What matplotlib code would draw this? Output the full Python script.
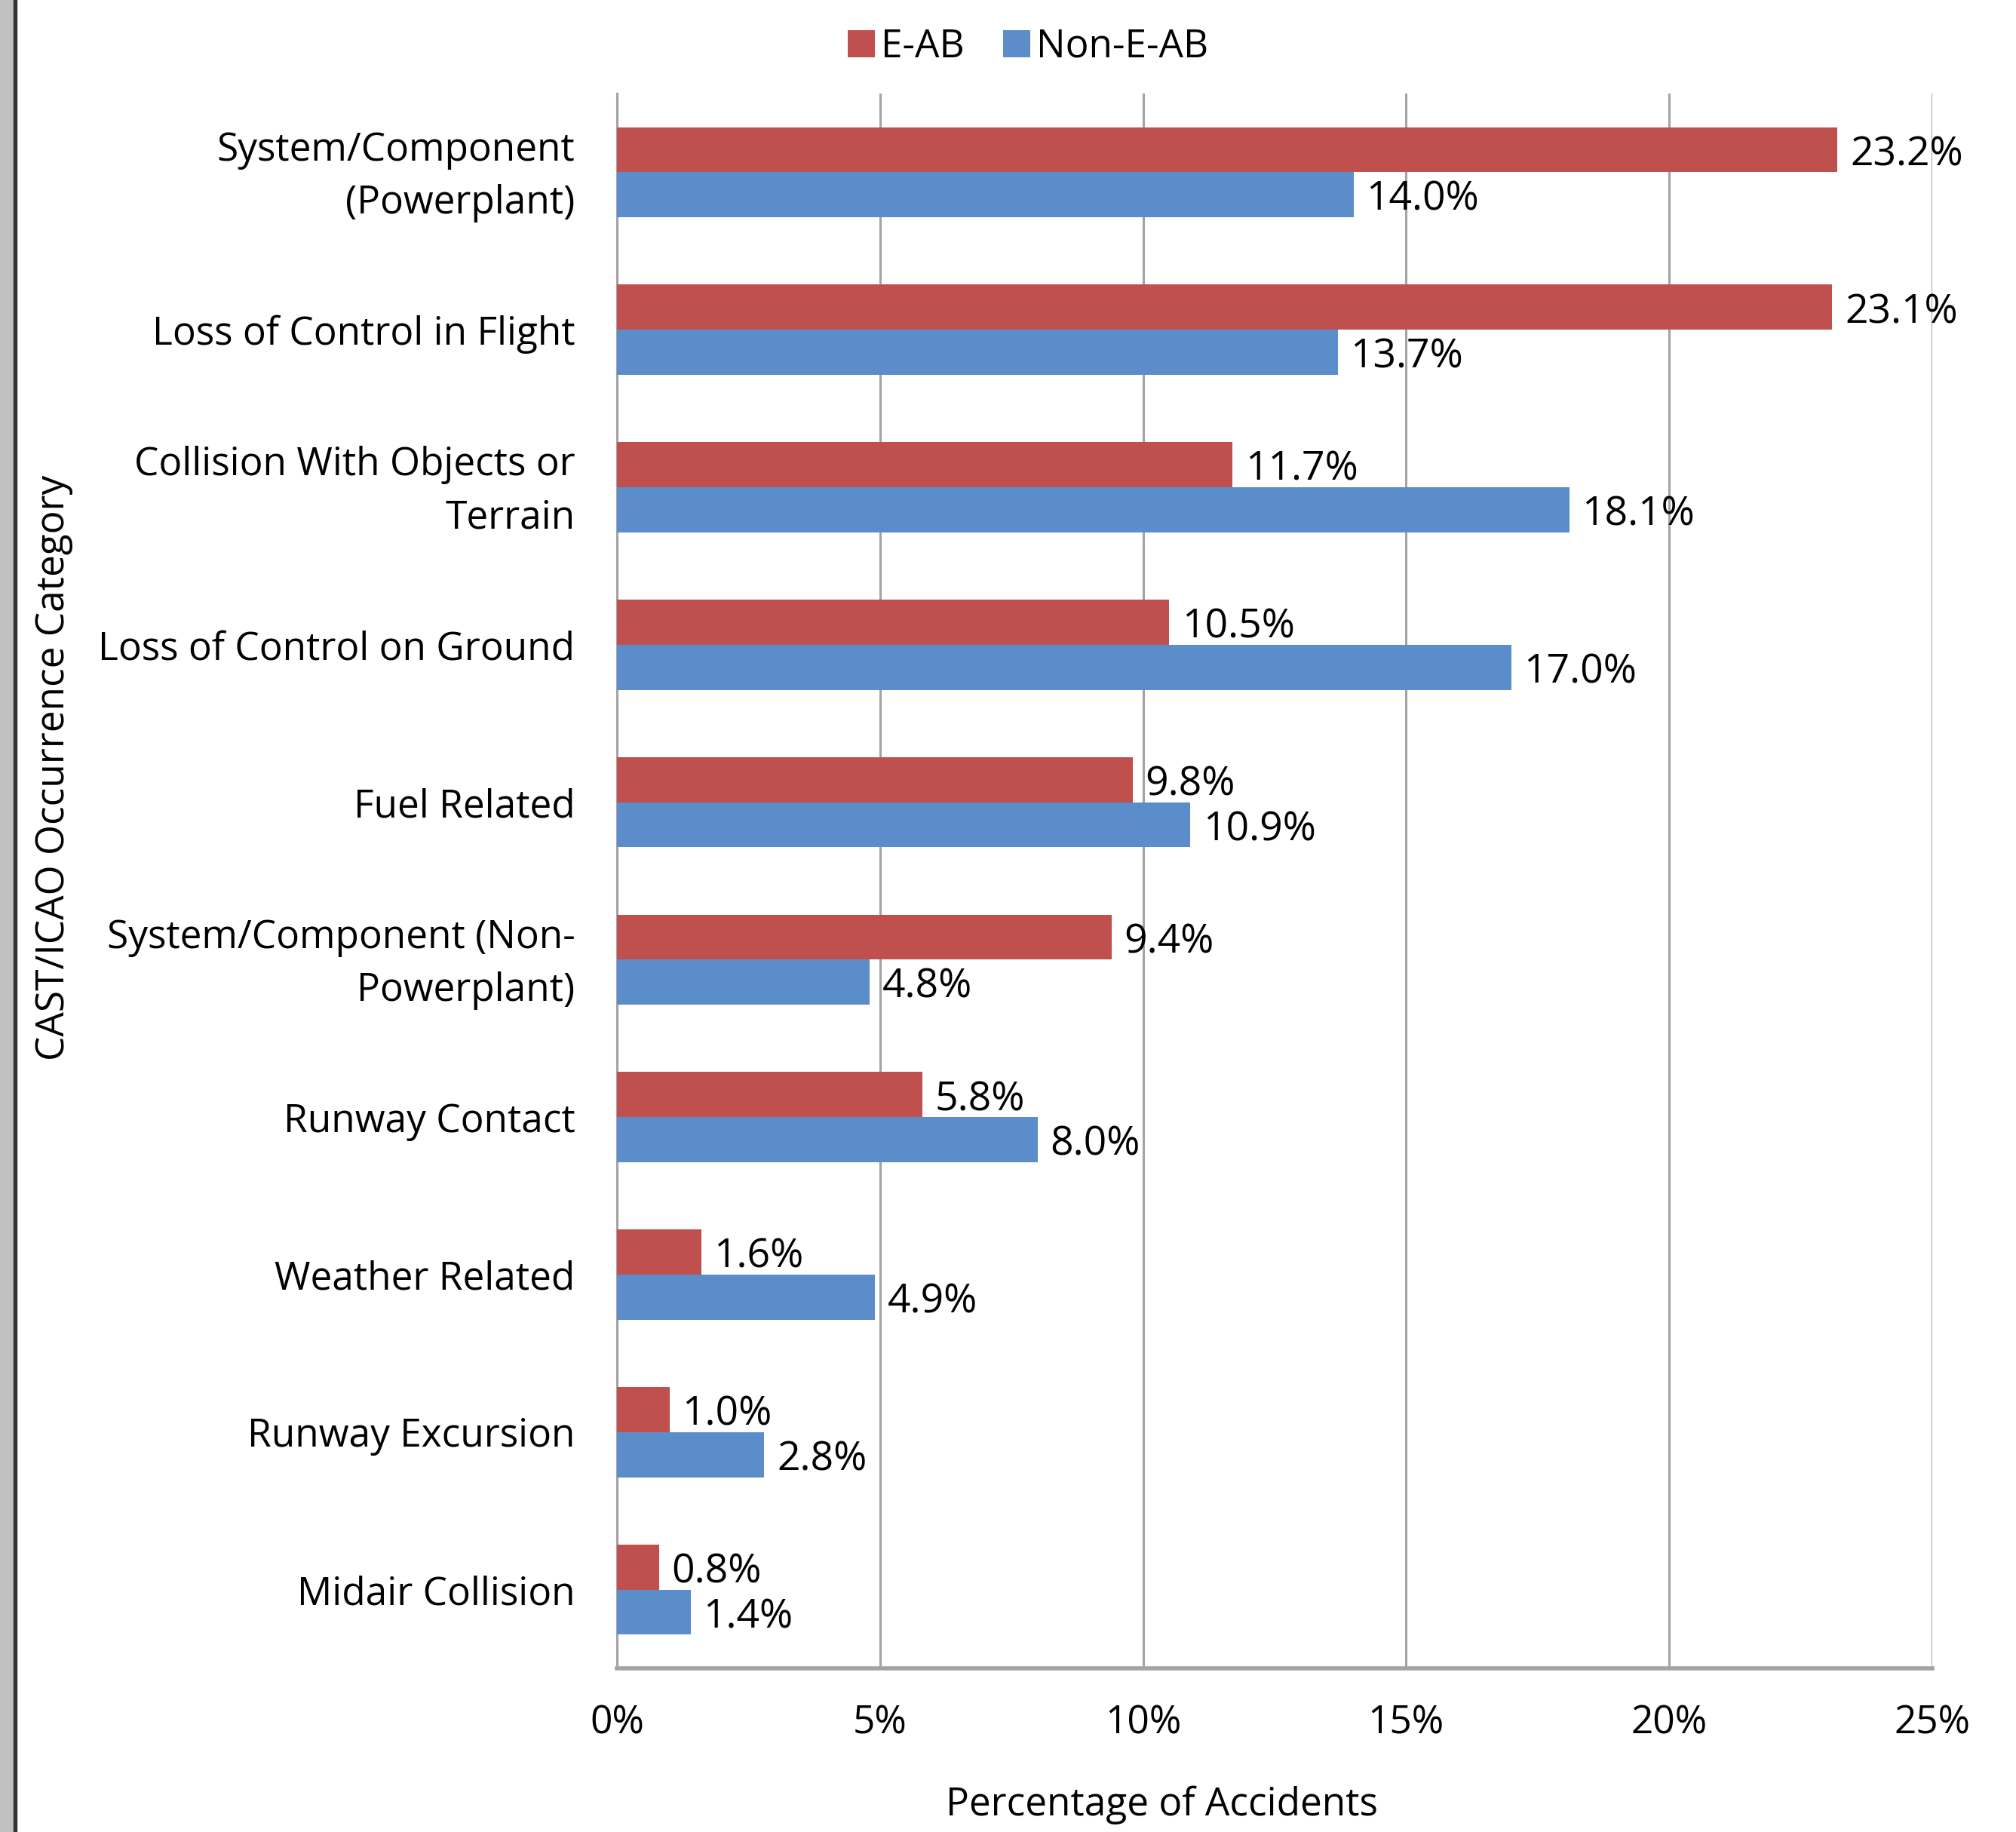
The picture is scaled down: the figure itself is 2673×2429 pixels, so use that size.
import matplotlib
import matplotlib.pyplot as plt
import matplotlib.transforms as mtransforms
import numpy as np
from matplotlib.patches import Rectangle

matplotlib.use("Agg")

categories = [
    "System/Component\n(Powerplant)",
    "Loss of Control in Flight",
    "Collision With Objects or\nTerrain",
    "Loss of Control on Ground",
    "Fuel Related",
    "System/Component (Non-\nPowerplant)",
    "Runway Contact",
    "Weather Related",
    "Runway Excursion",
    "Midair Collision",
]
eab = [23.2, 23.1, 11.7, 10.5, 9.8, 9.4, 5.8, 1.6, 1.0, 0.8]
non_eab = [14.0, 13.7, 18.1, 17.0, 10.9, 4.8, 8.0, 4.9, 2.8, 1.4]
xticks = [0, 5, 10, 15, 20, 25]

RED = "#C0504D"
BLUE = "#5B8DCB"
GRID = "#A3A3A6"
FS = 37

plt.rcParams["font.family"] = ["Open Sans", "DejaVu Sans"]

W, H = 2673, 2429
fig = plt.figure(figsize=(W / 100, H / 100), dpi=100)
ax = fig.add_axes([818 / W, 1 - 2212 / H, (2562 - 818) / W, (2212 - 124) / H])

y = np.arange(len(categories))
h = 0.286
b1 = ax.barh(y - h / 2, eab, height=h, color=RED, label="E-AB", zorder=3)
b2 = ax.barh(y + h / 2, non_eab, height=h, color=BLUE, label="Non-E-AB", zorder=3)

for bars, vals in ((b1, eab), (b2, non_eab)):
    for rect, v in zip(bars, vals):
        ax.annotate(f"{v:.1f}%", (rect.get_width(), rect.get_y() + rect.get_height() / 2),
                    xytext=(12, -5), textcoords="offset points",
                    ha="left", va="center", fontsize=38.5, zorder=4)

ax.set_xlim(0, 25)
ax.set_ylim(len(categories) - 0.5, -0.5)
ax.set_xticks(xticks)
ax.set_xticklabels([f"{t}%" for t in xticks], fontsize=FS)
ax.set_yticks(y)
ax.set_yticklabels(categories, fontsize=FS, linespacing=1.5)
ax.tick_params(axis="y", length=0, pad=40)
ax.tick_params(axis="x", length=0, pad=34)

# two-line category labels sit a little higher than the bar pair centre
lift = mtransforms.ScaledTranslation(0, 7 / 72, fig.dpi_scale_trans)
for lbl in ax.get_yticklabels():
    if "\n" in lbl.get_text():
        lbl.set_transform(lbl.get_transform() + lift)

ax.grid(axis="x", color=GRID, linewidth=2.2, zorder=0)
ax.set_axisbelow(True)
for s in ("top", "right"):
    ax.spines[s].set_visible(False)
ax.spines["left"].set_color(GRID)
ax.spines["left"].set_linewidth(2.2)
ax.spines["bottom"].set_color(GRID)
ax.spines["bottom"].set_linewidth(4)

fig.text(72 / W, 1 - 1018 / H, "CAST/ICAO Occurrence Category", rotation=90,
         ha="center", va="center", fontsize=FS)
fig.text(1540 / W, 1 - 2393 / H, "Percentage of Accidents",
         ha="center", va="center", fontsize=FS)

fig.legend(handles=[b1, b2], labels=["E-AB", "Non-E-AB"], loc="center",
           bbox_to_anchor=(1363 / W, 1 - 62 / H), ncol=2, frameon=False,
           fontsize=FS, handlelength=0.7, handleheight=0.7,
           handletextpad=0.15, columnspacing=1.0)

# grey page border on the left edge
fig.add_artist(Rectangle((0, 0), 18 / W, 1, transform=fig.transFigure,
                         color="#C0C0C2", zorder=0))
fig.add_artist(Rectangle((18 / W, 0), 4 / W, 1, transform=fig.transFigure,
                         color="#333333", zorder=0))

fig.savefig("out.png", dpi=100, facecolor="white")
plt.close(fig)
